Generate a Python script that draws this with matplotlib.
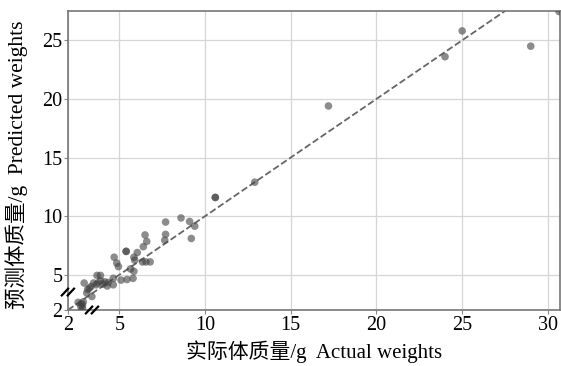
import matplotlib
matplotlib.use('Agg')  # noqa

import matplotlib.pyplot as plt  # noqa

plt.rcParams['font.family'] = ['Liberation Serif', 'Noto Sans CJK SC']

# actual vs predicted weights (g)
actual = [
    30.65, 25.0, 24.0, 29.0, 17.2, 12.9, 10.6, 10.6,
    7.7, 8.6, 9.1, 9.4, 9.2, 7.7, 7.65, 6.5, 6.6, 6.4,
    6.35, 6.55, 6.8, 5.4, 5.4, 6.05, 5.85, 5.9, 5.85, 5.65,
    5.8, 5.45, 5.1, 4.7, 4.85, 4.95, 4.65, 4.65, 4.35, 4.15,
    3.9, 3.7, 3.9, 3.5, 3.65, 3.35, 3.25, 2.95, 3.1, 3.4,
    2.6, 2.8, 2.9, 2.75, 2.85, 2.85, 4.3, 3.75, 4.05, 3.15,
]
predicted = [
    27.45, 25.8, 23.6, 24.5, 19.4, 12.9, 11.6, 11.6,
    9.5, 9.85, 9.55, 9.15, 8.1, 8.45, 7.95, 8.4, 7.85, 7.4,
    6.1, 6.1, 6.1, 7.0, 7.0, 6.9, 6.5, 6.25, 5.3, 5.5,
    4.7, 4.6, 4.55, 6.5, 6.0, 5.7, 4.7, 4.15, 4.35, 4.4,
    4.5, 4.95, 4.95, 4.3, 4.15, 4.0, 3.85, 4.3, 3.45, 3.15,
    2.65, 2.55, 2.7, 2.3, 2.15, 2.4, 4.05, 4.3, 4.2, 3.75,
]

x_ticks = [2, 5, 10, 15, 20, 25, 30]
y_ticks = [2, 5, 10, 15, 20, 25]


def add_break(ax, x, y):
    # little "//" marks on the spine
    for off in (-0.006, 0.006):
        ax.plot([x + off - 0.008, x + off + 0.008], [y - 0.014, y + 0.014],
                transform=ax.transAxes, color='black', lw=1.6,
                clip_on=False, zorder=5, solid_capstyle='butt')


fig = plt.figure(figsize=(5.61, 3.66), dpi=100)
ax = fig.add_axes([0.121, 0.153, 0.877, 0.817])

ax.plot([2, 31], [2, 31], ls='--', color='#666666', lw=1.3, zorder=2)
ax.scatter(actual, predicted, s=30, color='#404040', alpha=0.6,
           edgecolors='none', zorder=3)

ax.set_xlim(2, 30.7)
ax.set_ylim(2, 27.5)
ax.set_xticks(x_ticks)
ax.set_yticks(y_ticks)
ax.tick_params(labelsize=14.5, length=3, color='#888888', pad=1)
ax.grid(True, color='#d6d6d6', lw=0.9)
ax.set_axisbelow(True)
for sp in ax.spines.values():
    sp.set_color('#777777')
    sp.set_linewidth(1.2)

add_break(ax, 0.0, 0.06)
add_break(ax, 0.049, 0.0)

ax.set_xlabel('实际体质量/g  Actual weights', fontsize=15, labelpad=4)
ax.set_ylabel('预测体质量/g  Predicted weights', fontsize=15.5)
ax.yaxis.set_label_coords(-0.082, 0.485)

plt.savefig('out.png')
